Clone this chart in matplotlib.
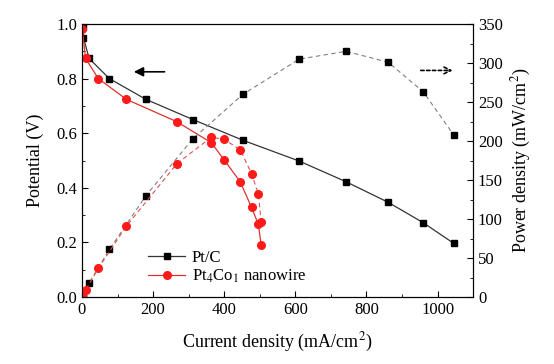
import matplotlib.pyplot as plt
from matplotlib.ticker import MultipleLocator

plt.rcParams['font.family'] = ['Liberation Serif', 'DejaVu Serif']
plt.rcParams['mathtext.fontset'] = 'stix'

# Pt/C
ptc_current = [2, 4, 20, 77, 180, 312, 453, 611, 743, 861, 960, 1045]
ptc_potential = [0.99, 0.95, 0.874, 0.80, 0.724, 0.65, 0.574, 0.498, 0.422, 0.347, 0.272, 0.197]
ptc_power = [2, 4, 18, 61, 130, 203, 260, 305, 315, 301, 263, 208]

# Pt4Co1 nanowire
ptco_current = [1, 10, 46, 125, 267, 364, 400, 445, 477, 496, 504]
ptco_potential = [0.98, 0.874, 0.80, 0.724, 0.642, 0.565, 0.502, 0.422, 0.328, 0.266, 0.19]
ptco_power = [1, 8.7, 37, 91, 171, 205, 202, 189, 158, 132, 96]

fig = plt.figure(figsize=(5.54, 3.64), dpi=100)
ax = fig.add_axes([0.148, 0.184, 0.706, 0.750])
ax2 = ax.twinx()

ax.plot(ptc_current, ptc_potential, '-', color='#333333', lw=0.9,
        marker='s', ms=4.5, mfc='black', mec='black', label='Pt/C')
ax.plot(ptco_current, ptco_potential, '-', color='#e03030', lw=0.9,
        marker='o', ms=5.5, mfc='#ff1a1a', mec='#ff1a1a', label='Pt$_4$Co$_1$ nanowire')

ax2.plot(ptc_current, ptc_power, '--', color='#808080', lw=0.8, dashes=(4, 3),
         marker='s', ms=4.5, mfc='black', mec='black')
ax2.plot(ptco_current, ptco_power, '--', color='#e05050', lw=0.8, dashes=(4, 3),
         marker='o', ms=5.5, mfc='#ff1a1a', mec='#ff1a1a')

ax.set_xlim(0, 1100)
ax.set_ylim(0, 1.0)
ax2.set_ylim(0, 350)

ax.xaxis.set_major_locator(MultipleLocator(200))
ax.xaxis.set_minor_locator(MultipleLocator(100))
ax.yaxis.set_minor_locator(MultipleLocator(0.1))
ax2.yaxis.set_major_locator(MultipleLocator(50))
ax2.yaxis.set_minor_locator(MultipleLocator(25))

ax.set_yticks([0.0, 0.2, 0.4, 0.6, 0.8, 1.0])
ax.set_yticklabels(['0.0', '0.2', '0.4', '0.6', '0.8', '1.0'])

for a in (ax, ax2):
    a.tick_params(which='both', direction='in', labelsize=12)
    a.tick_params(which='major', length=4)
    a.tick_params(which='minor', length=2.5)
ax.tick_params(axis='x', which='both', top=False)
ax.tick_params(axis='y', which='both', right=False)

ax.set_xlabel('Current density (mA/cm$^2$)', fontsize=13, labelpad=9)
ax.set_ylabel('Potential (V)', fontsize=13, labelpad=9)
ax2.set_ylabel('Power density (mW/cm$^2$)', fontsize=13, labelpad=5)

# direction arrows
ax.annotate('', xy=(138, 0.825), xytext=(240, 0.825),
            arrowprops=dict(arrowstyle='-|>', color='black', lw=1.2, mutation_scale=14))
ax.annotate('', xy=(1050, 0.83), xytext=(945, 0.83),
            arrowprops=dict(arrowstyle='->', color='black', lw=1.2, ls=(0, (2, 1.5)), mutation_scale=12))

ax.legend(loc='lower left', bbox_to_anchor=(0.14, 0.0), frameon=False, fontsize=12,
          handlelength=2.2, handletextpad=0.4, labelspacing=0.1, borderpad=0.2)

fig.savefig('out.png', dpi=100)
